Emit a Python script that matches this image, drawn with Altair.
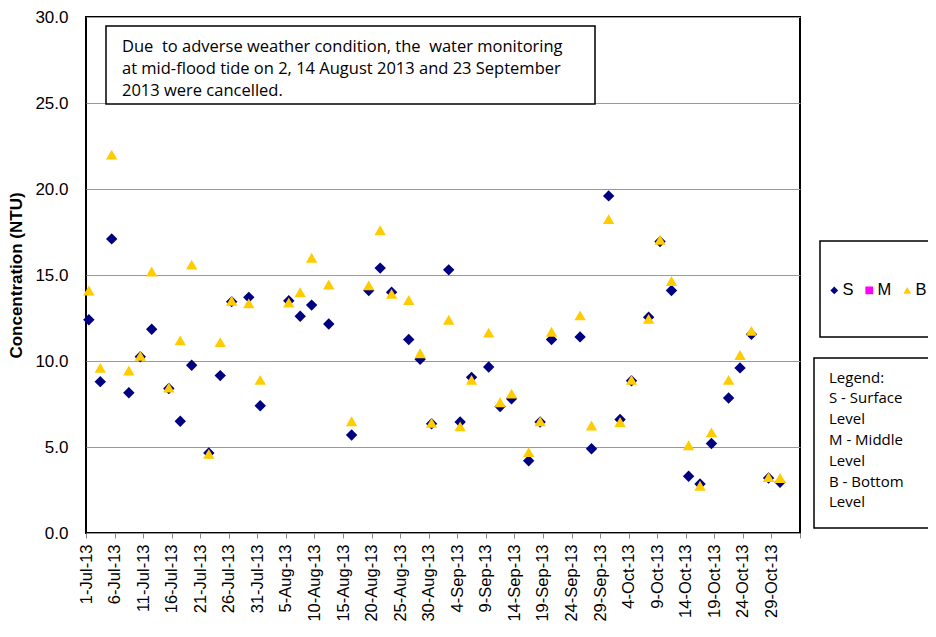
import altair as alt
import pandas as pd

# ---- data ----
dates = [
    "2013-07-01", "2013-07-03", "2013-07-05", "2013-07-08", "2013-07-10", "2013-07-12",
    "2013-07-15", "2013-07-17", "2013-07-19", "2013-07-22", "2013-07-24", "2013-07-26",
    "2013-07-29", "2013-07-31", "2013-08-05", "2013-08-07", "2013-08-09", "2013-08-12",
    "2013-08-16", "2013-08-19", "2013-08-21", "2013-08-23", "2013-08-26", "2013-08-28",
    "2013-08-30", "2013-09-02", "2013-09-04", "2013-09-06", "2013-09-09", "2013-09-11",
    "2013-09-13", "2013-09-16", "2013-09-18", "2013-09-20", "2013-09-25", "2013-09-27",
    "2013-09-30", "2013-10-02", "2013-10-04", "2013-10-07", "2013-10-09", "2013-10-11",
    "2013-10-14", "2013-10-16", "2013-10-18", "2013-10-21", "2013-10-23", "2013-10-25",
    "2013-10-28", "2013-10-30",
]
surface = [
    12.4, 8.8, 17.1, 8.15, 10.25, 11.85,
    8.4, 6.5, 9.75, 4.65, 9.15, 13.45,
    13.7, 7.4, 13.5, 12.6, 13.25, 12.15,
    5.7, 14.1, 15.4, 14.0, 11.25, 10.1,
    6.35, 15.3, 6.45, 9.05, 9.65, 7.35,
    7.8, 4.2, 6.45, 11.25, 11.4, 4.9,
    19.6, 6.6, 8.85, 12.55, 16.95, 14.1,
    3.3, 2.85, 5.2, 7.85, 9.6, 11.55,
    3.2, 2.95,
]
bottom = [
    14.1, 9.6, 22.0, 9.45, 10.3, 15.2,
    8.45, 11.2, 15.6, 4.6, 11.1, 13.5,
    13.35, 8.9, 13.4, 14.0, 16.0, 14.45,
    6.5, 14.4, 17.6, 13.9, 13.55, 10.45,
    6.4, 12.4, 6.2, 8.9, 11.65, 7.6,
    8.1, 4.7, 6.5, 11.7, 12.65, 6.25,
    18.25, 6.45, 8.9, 12.45, 17.05, 14.65,
    5.1, 2.75, 5.85, 8.9, 10.35, 11.75,
    3.25, 3.2,
]
series = ["S", "M", "B"]
series_colors = ["#000080", "#FF00FF", "#FFCC00"]
series_shapes = ["diamond", "square", "triangle-up"]
y_ticks = [0, 5, 10, 15, 20, 25, 30]
x_start, x_end = "2013-07-01", "2013-11-03"
note_text = ("Due\u00a0 to adverse weather condition, the\u00a0 water monitoring\n"
             "at mid-flood tide on 2, 14 August 2013 and 23 September\n"
             "2013 were cancelled.")
legend_note = "Legend:\nS - Surface\nLevel\nM - Middle\nLevel\nB - Bottom\nLevel"

# ---- table for the library ----
rows = []
for d, v in zip(dates, surface):
    rows.append({"date": d + "T12:00:00", "series": "S", "value": v})
for d, v in zip(dates, bottom):
    rows.append({"date": d + "T12:00:00", "series": "B", "value": v})
df = pd.DataFrame(rows)

tick_dates = pd.date_range(x_start, x_end, freq="5D")
tick_values = [alt.DateTime(year=t.year, month=t.month, date=t.day) for t in tick_dates]
ts, te = pd.Timestamp(x_start), pd.Timestamp(x_end)
dom = [alt.DateTime(year=ts.year, month=ts.month, date=ts.day),
       alt.DateTime(year=te.year, month=te.month, date=te.day)]

legend = alt.Legend(
    title=None, orient="none", direction="horizontal", legendX=740, legendY=265,
    symbolSize=60, symbolStrokeWidth=0, labelFont="Liberation Sans",
    labelFontSize=16.5, labelColor="black", columnPadding=7, labelOffset=0,
)

points = alt.Chart(df).mark_point(filled=True, size=130, opacity=1).encode(
    x=alt.X("date:T", scale=alt.Scale(domain=dom, nice=False),
            axis=alt.Axis(values=tick_values, title=None, grid=False,
                          labelExpr="datum.value >= time(datetime(2013,10,2)) ? '' : timeFormat(datum.value, '%-d-%b-%y')",
                          labelAngle=270, labelFont="Liberation Sans", labelFontSize=16.5,
                          labelColor="black", labelPadding=6, tickSize=5,
                          tickColor="#888888", domain=False)),
    y=alt.Y("value:Q", scale=alt.Scale(domain=[0, 30], nice=False),
            axis=alt.Axis(values=y_ticks, format=".1f", title="Concentration (NTU)",
                          titleFont="Liberation Sans", titleFontSize=17, titleFontWeight="bold",
                          titleColor="black", titleX=-61,
                          labelFont="Liberation Sans", labelFontSize=17, labelColor="black",
                          labelPadding=18, ticks=False, domain=False,
                          gridColor="#999999", gridWidth=1)),
    color=alt.Color("series:N", scale=alt.Scale(domain=series, range=series_colors), legend=legend),
    shape=alt.Shape("series:N", scale=alt.Scale(domain=series, range=series_shapes), legend=legend),
)

one = pd.DataFrame({"note": [note_text], "leg": [legend_note]})

note_box = alt.Chart(one).mark_rect(fill="white", stroke="black", strokeWidth=1.5).encode(
    x=alt.value(20), x2=alt.value(509), y=alt.value(9), y2=alt.value(87))
note = alt.Chart(one).mark_text(lineBreak="\n", lineHeight=22, align="left", baseline="top",
                                font="Open Sans", fontSize=16.5, color="black").encode(
    x=alt.value(36), y=alt.value(21.5), text="note:N")

leg_box1 = alt.Chart(one).mark_rect(fill="white", stroke="black", strokeWidth=1.5).encode(
    x=alt.value(734), x2=alt.value(900), y=alt.value(224), y2=alt.value(320))
leg_box2 = alt.Chart(one).mark_rect(fill="white", stroke="black", strokeWidth=1.5).encode(
    x=alt.value(728), x2=alt.value(900), y=alt.value(341), y2=alt.value(511))
leg_text = alt.Chart(one).mark_text(lineBreak="\n", lineHeight=20.8, align="left", baseline="top",
                                    font="Open Sans", fontSize=15, color="black").encode(
    x=alt.value(743), y=alt.value(353.5), text="leg:N")

chart = alt.layer(leg_box1, leg_box2, leg_text, points, note_box, note).properties(
    width=714, height=516,
    autosize=alt.AutoSizeParams(type="none"),
    padding={"left": 78, "top": 9, "right": 128, "bottom": 94},
).configure(background="white").configure_view(stroke="black", strokeWidth=2)

chart.save("out.html", embed_options={"renderer": "svg", "actions": False})
